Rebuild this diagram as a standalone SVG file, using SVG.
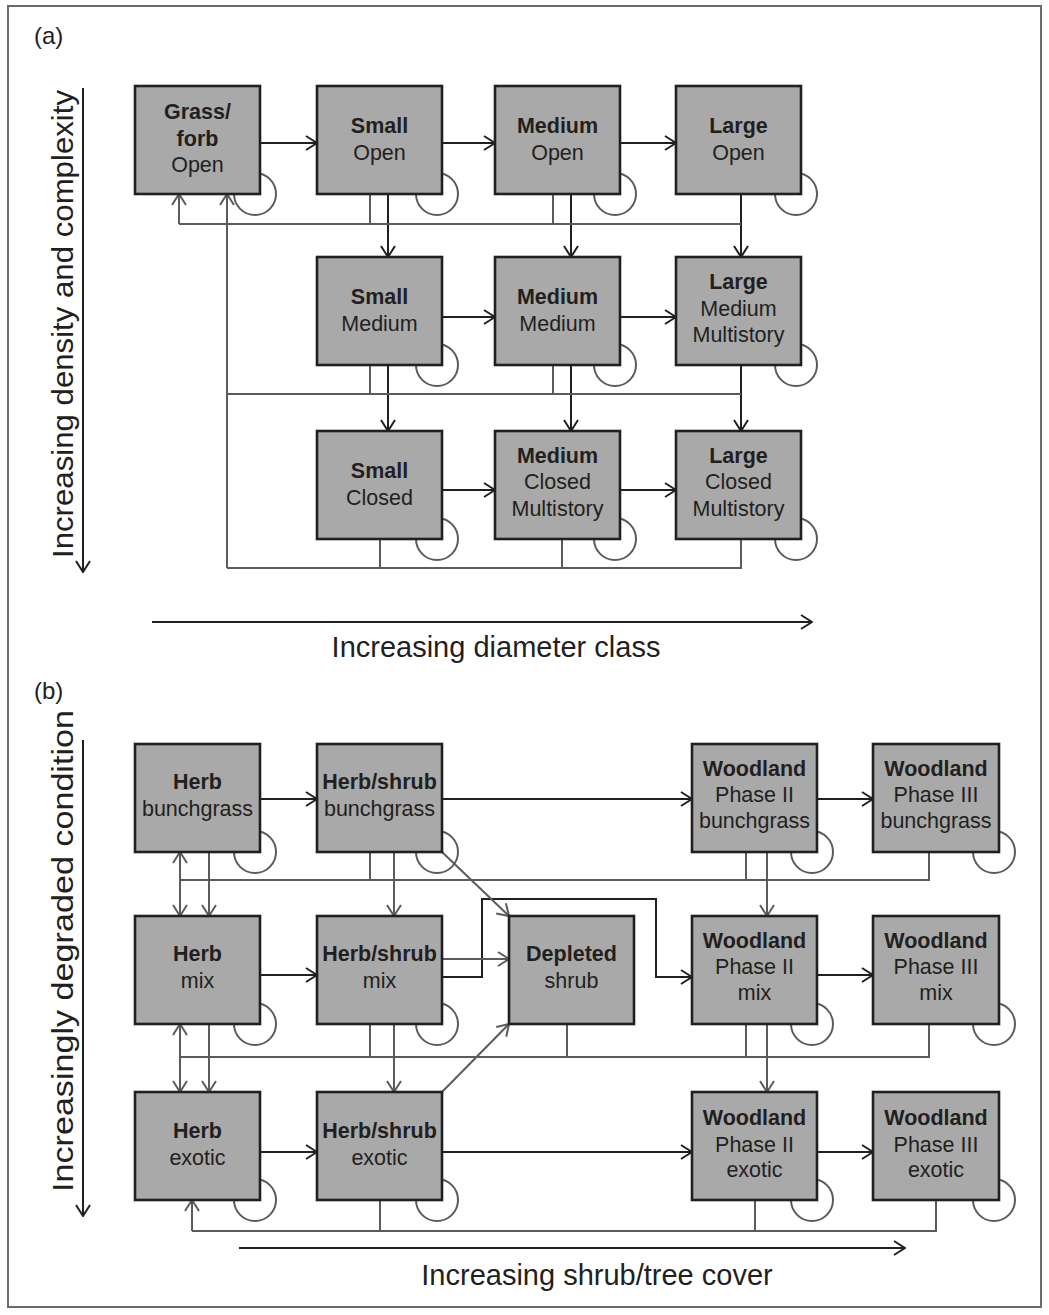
<svg xmlns="http://www.w3.org/2000/svg" width="1049" height="1315" viewBox="0 0 1049 1315">
  <style>
    .frame { fill: #ffffff; stroke: #6a6a6a; stroke-width: 2; }
    .node rect { fill: #a8a9a8; stroke: #231f20; stroke-width: 2.6; }
    .node text { font-family: "Liberation Sans", Arial, sans-serif; font-size: 21.5px; fill: #231f20; text-anchor: middle; }
    .node .hd { font-weight: bold; }
    .k { fill: none; stroke: #231f20; stroke-width: 2; }
    .g { fill: none; stroke: #5b5b5b; stroke-width: 2; }
    .ka { marker-end: url(#arrK); }
    .ga { marker-end: url(#arrG); }
    .gs { marker-start: url(#arrGs); }
    .loop { fill: none; stroke: #5b5b5b; stroke-width: 2; }
    .lbl { font-family: "Liberation Sans", Arial, sans-serif; fill: #231f20; }
    .axis { font-size: 29px; text-anchor: middle; }
    .vaxis { font-size: 30px; text-anchor: middle; }
    .panel { font-size: 24px; }
  </style>
  <defs>
    <marker id="arrK" markerUnits="userSpaceOnUse" viewBox="0 0 13 16" refX="12" refY="8" markerWidth="13" markerHeight="16" orient="auto">
      <path d="M1,1 L12,8 L1,15" fill="none" stroke="#231f20" stroke-width="2"/>
    </marker>
    <marker id="arrG" markerUnits="userSpaceOnUse" viewBox="0 0 13 16" refX="12" refY="8" markerWidth="13" markerHeight="16" orient="auto">
      <path d="M1,1 L12,8 L1,15" fill="none" stroke="#5b5b5b" stroke-width="2"/>
    </marker>
    <marker id="arrGs" markerUnits="userSpaceOnUse" viewBox="0 0 13 16" refX="1" refY="8" markerWidth="13" markerHeight="16" orient="auto">
      <path d="M12,1 L1,8 L12,15" fill="none" stroke="#5b5b5b" stroke-width="2"/>
    </marker>
  </defs>

  <rect class="frame" x="8" y="6" width="1033" height="1301"/>

  <!-- panel labels and axes -->
  <g id="labels">
    <text class="lbl panel" x="34" y="44">(a)</text>
    <text class="lbl panel" x="34" y="699">(b)</text>
    <text class="lbl vaxis" transform="translate(73,324) rotate(-90)" textLength="468" lengthAdjust="spacingAndGlyphs">Increasing density and complexity</text>
    <text class="lbl axis" x="496" y="657">Increasing diameter class</text>
    <text class="lbl vaxis" transform="translate(73,951) rotate(-90)" textLength="482" lengthAdjust="spacingAndGlyphs">Increasingly degraded condition</text>
    <text class="lbl axis" x="597" y="1285">Increasing shrub/tree cover</text>
  </g>

  <g id="connectors">
    <!-- axis arrows -->
    <line class="k ka" x1="83" y1="88" x2="83" y2="572"/>
    <line class="k ka" x1="152" y1="622" x2="812" y2="622"/>
    <line class="k ka" x1="83" y1="740" x2="83" y2="1216"/>
    <line class="k ka" x1="239" y1="1248" x2="905" y2="1248"/>

    <!-- (a) self-loops -->
    <circle class="loop" cx="255" cy="194" r="21"/>
    <circle class="loop" cx="437" cy="194" r="21"/>
    <circle class="loop" cx="615" cy="194" r="21"/>
    <circle class="loop" cx="796" cy="194" r="21"/>
    <circle class="loop" cx="437" cy="365" r="21"/>
    <circle class="loop" cx="615" cy="365" r="21"/>
    <circle class="loop" cx="796" cy="365" r="21"/>
    <circle class="loop" cx="437" cy="539" r="21"/>
    <circle class="loop" cx="615" cy="539" r="21"/>
    <circle class="loop" cx="796" cy="539" r="21"/>

    <!-- (a) growth transitions -->
    <line class="k ka" x1="260" y1="143" x2="317" y2="143"/>
    <line class="k ka" x1="442" y1="143" x2="495" y2="143"/>
    <line class="k ka" x1="620" y1="143" x2="676" y2="143"/>
    <line class="k ka" x1="442" y1="317" x2="495" y2="317"/>
    <line class="k ka" x1="620" y1="317" x2="676" y2="317"/>
    <line class="k ka" x1="442" y1="490" x2="495" y2="490"/>
    <line class="k ka" x1="620" y1="490" x2="676" y2="490"/>
    <line class="k ka" x1="388" y1="194" x2="388" y2="257"/>
    <line class="k ka" x1="571" y1="194" x2="571" y2="257"/>
    <line class="k ka" x1="741" y1="194" x2="741" y2="257"/>
    <line class="k ka" x1="388" y1="365" x2="388" y2="431"/>
    <line class="k ka" x1="571" y1="365" x2="571" y2="431"/>
    <line class="k ka" x1="741" y1="365" x2="741" y2="431"/>

    <!-- (a) disturbance returns -->
    <polyline class="g" points="741,224 179,224"/>
    <line class="g ga" x1="179" y1="224" x2="179" y2="194"/>
    <line class="g" x1="370" y1="194" x2="370" y2="224"/>
    <line class="g" x1="553" y1="194" x2="553" y2="224"/>
    <polyline class="g" points="741,394 227,394"/>
    <line class="g" x1="370" y1="365" x2="370" y2="394"/>
    <line class="g" x1="553" y1="365" x2="553" y2="394"/>
    <polyline class="g" points="741,539 741,568 227,568"/>
    <line class="g" x1="380" y1="539" x2="380" y2="568"/>
    <line class="g" x1="562" y1="539" x2="562" y2="568"/>
    <line class="g ga" x1="227" y1="568" x2="227" y2="194"/>

    <!-- (b) self-loops -->
    <circle class="loop" cx="255" cy="852" r="21"/>
    <circle class="loop" cx="437" cy="852" r="21"/>
    <circle class="loop" cx="812" cy="852" r="21"/>
    <circle class="loop" cx="994" cy="852" r="21"/>
    <circle class="loop" cx="255" cy="1024" r="21"/>
    <circle class="loop" cx="437" cy="1024" r="21"/>
    <circle class="loop" cx="812" cy="1024" r="21"/>
    <circle class="loop" cx="994" cy="1024" r="21"/>
    <circle class="loop" cx="255" cy="1200" r="21"/>
    <circle class="loop" cx="437" cy="1200" r="21"/>
    <circle class="loop" cx="812" cy="1200" r="21"/>
    <circle class="loop" cx="994" cy="1200" r="21"/>

    <!-- (b) succession -->
    <line class="k ka" x1="260" y1="799" x2="317" y2="799"/>
    <line class="k ka" x1="442" y1="799" x2="692" y2="799"/>
    <line class="k ka" x1="817" y1="799" x2="873" y2="799"/>
    <line class="k ka" x1="260" y1="975" x2="317" y2="975"/>
    <polyline class="k ka" points="442,977 482,977 482,899 656,899 656,977 692,977"/>
    <line class="k ka" x1="817" y1="975" x2="873" y2="975"/>
    <line class="k ka" x1="260" y1="1152" x2="317" y2="1152"/>
    <line class="k ka" x1="442" y1="1152" x2="692" y2="1152"/>
    <line class="k ka" x1="817" y1="1152" x2="873" y2="1152"/>

    <!-- (b) degradation toward depleted shrub -->
    <line class="g ga" x1="442" y1="959" x2="509" y2="959"/>
    <line class="g ga" x1="442" y1="852" x2="509" y2="916"/>
    <line class="g ga" x1="442" y1="1092" x2="509" y2="1024"/>

    <!-- (b) bunchgrass to mix -->
    <line class="g ga gs" x1="180" y1="852" x2="180" y2="916"/>
    <line class="g ga" x1="209" y1="852" x2="209" y2="916"/>
    <line class="g ga" x1="394" y1="852" x2="394" y2="916"/>
    <line class="g ga" x1="767" y1="852" x2="767" y2="916"/>
    <polyline class="g" points="180,880 929,880 929,852"/>
    <line class="g" x1="370" y1="852" x2="370" y2="880"/>
    <line class="g" x1="746" y1="852" x2="746" y2="880"/>

    <!-- (b) mix to exotic -->
    <line class="g ga gs" x1="180" y1="1024" x2="180" y2="1092"/>
    <line class="g ga" x1="209" y1="1024" x2="209" y2="1092"/>
    <line class="g ga" x1="394" y1="1024" x2="394" y2="1092"/>
    <line class="g ga" x1="767" y1="1024" x2="767" y2="1092"/>
    <polyline class="g" points="180,1057 929,1057 929,1024"/>
    <line class="g" x1="370" y1="1024" x2="370" y2="1057"/>
    <line class="g" x1="567" y1="1024" x2="567" y2="1057"/>
    <line class="g" x1="746" y1="1024" x2="746" y2="1057"/>

    <!-- (b) exotic returns -->
    <polyline class="g" points="936,1200 936,1231 192,1231"/>
    <line class="g ga" x1="192" y1="1231" x2="192" y2="1200"/>
    <line class="g" x1="380" y1="1200" x2="380" y2="1231"/>
    <line class="g" x1="755" y1="1200" x2="755" y2="1231"/>
  </g>

  <!-- (a) nodes -->
  <g id="a-grass-forb-open" class="node">
    <rect x="135" y="86" width="125" height="108"/>
    <text class="hd" x="197.5" y="119">Grass/</text>
    <text class="hd" x="197.5" y="145.5">forb</text>
    <text x="197.5" y="172">Open</text>
  </g>
  <g id="a-small-open" class="node">
    <rect x="317" y="86" width="125" height="108"/>
    <text class="hd" x="379.5" y="133">Small</text>
    <text x="379.5" y="160">Open</text>
  </g>
  <g id="a-medium-open" class="node">
    <rect x="495" y="86" width="125" height="108"/>
    <text class="hd" x="557.5" y="133">Medium</text>
    <text x="557.5" y="160">Open</text>
  </g>
  <g id="a-large-open" class="node">
    <rect x="676" y="86" width="125" height="108"/>
    <text class="hd" x="738.5" y="133">Large</text>
    <text x="738.5" y="160">Open</text>
  </g>
  <g id="a-small-medium" class="node">
    <rect x="317" y="257" width="125" height="108"/>
    <text class="hd" x="379.5" y="303.5">Small</text>
    <text x="379.5" y="330.5">Medium</text>
  </g>
  <g id="a-medium-medium" class="node">
    <rect x="495" y="257" width="125" height="108"/>
    <text class="hd" x="557.5" y="303.5">Medium</text>
    <text x="557.5" y="330.5">Medium</text>
  </g>
  <g id="a-large-medium-multistory" class="node">
    <rect x="676" y="257" width="125" height="108"/>
    <text class="hd" x="738.5" y="289">Large</text>
    <text x="738.5" y="315.5">Medium</text>
    <text x="738.5" y="342">Multistory</text>
  </g>
  <g id="a-small-closed" class="node">
    <rect x="317" y="431" width="125" height="108"/>
    <text class="hd" x="379.5" y="477.5">Small</text>
    <text x="379.5" y="504.5">Closed</text>
  </g>
  <g id="a-medium-closed-multistory" class="node">
    <rect x="495" y="431" width="125" height="108"/>
    <text class="hd" x="557.5" y="462.5">Medium</text>
    <text x="557.5" y="489">Closed</text>
    <text x="557.5" y="516">Multistory</text>
  </g>
  <g id="a-large-closed-multistory" class="node">
    <rect x="676" y="431" width="125" height="108"/>
    <text class="hd" x="738.5" y="462.5">Large</text>
    <text x="738.5" y="489">Closed</text>
    <text x="738.5" y="516">Multistory</text>
  </g>

  <!-- (b) nodes -->
  <g id="b-herb-bunchgrass" class="node">
    <rect x="135" y="744" width="125" height="108"/>
    <text class="hd" x="197.5" y="789">Herb</text>
    <text x="197.5" y="815.5">bunchgrass</text>
  </g>
  <g id="b-herbshrub-bunchgrass" class="node">
    <rect x="317" y="744" width="125" height="108"/>
    <text class="hd" x="379.5" y="789">Herb/shrub</text>
    <text x="379.5" y="815.5">bunchgrass</text>
  </g>
  <g id="b-woodland2-bunchgrass" class="node">
    <rect x="692" y="744" width="125" height="108"/>
    <text class="hd" x="754.5" y="775.5">Woodland</text>
    <text x="754.5" y="802">Phase II</text>
    <text x="754.5" y="828">bunchgrass</text>
  </g>
  <g id="b-woodland3-bunchgrass" class="node">
    <rect x="873" y="744" width="126" height="108"/>
    <text class="hd" x="936" y="775.5">Woodland</text>
    <text x="936" y="802">Phase III</text>
    <text x="936" y="828">bunchgrass</text>
  </g>
  <g id="b-herb-mix" class="node">
    <rect x="135" y="916" width="125" height="108"/>
    <text class="hd" x="197.5" y="961">Herb</text>
    <text x="197.5" y="987.5">mix</text>
  </g>
  <g id="b-herbshrub-mix" class="node">
    <rect x="317" y="916" width="125" height="108"/>
    <text class="hd" x="379.5" y="961">Herb/shrub</text>
    <text x="379.5" y="987.5">mix</text>
  </g>
  <g id="b-depleted-shrub" class="node">
    <rect x="509" y="916" width="125" height="108"/>
    <text class="hd" x="571.5" y="961">Depleted</text>
    <text x="571.5" y="987.5">shrub</text>
  </g>
  <g id="b-woodland2-mix" class="node">
    <rect x="692" y="916" width="125" height="108"/>
    <text class="hd" x="754.5" y="947.5">Woodland</text>
    <text x="754.5" y="974">Phase II</text>
    <text x="754.5" y="1000">mix</text>
  </g>
  <g id="b-woodland3-mix" class="node">
    <rect x="873" y="916" width="126" height="108"/>
    <text class="hd" x="936" y="947.5">Woodland</text>
    <text x="936" y="974">Phase III</text>
    <text x="936" y="1000">mix</text>
  </g>
  <g id="b-herb-exotic" class="node">
    <rect x="135" y="1092" width="125" height="108"/>
    <text class="hd" x="197.5" y="1138">Herb</text>
    <text x="197.5" y="1164.5">exotic</text>
  </g>
  <g id="b-herbshrub-exotic" class="node">
    <rect x="317" y="1092" width="125" height="108"/>
    <text class="hd" x="379.5" y="1138">Herb/shrub</text>
    <text x="379.5" y="1164.5">exotic</text>
  </g>
  <g id="b-woodland2-exotic" class="node">
    <rect x="692" y="1092" width="125" height="108"/>
    <text class="hd" x="754.5" y="1125">Woodland</text>
    <text x="754.5" y="1151.5">Phase II</text>
    <text x="754.5" y="1177">exotic</text>
  </g>
  <g id="b-woodland3-exotic" class="node">
    <rect x="873" y="1092" width="126" height="108"/>
    <text class="hd" x="936" y="1125">Woodland</text>
    <text x="936" y="1151.5">Phase III</text>
    <text x="936" y="1177">exotic</text>
  </g>
</svg>
